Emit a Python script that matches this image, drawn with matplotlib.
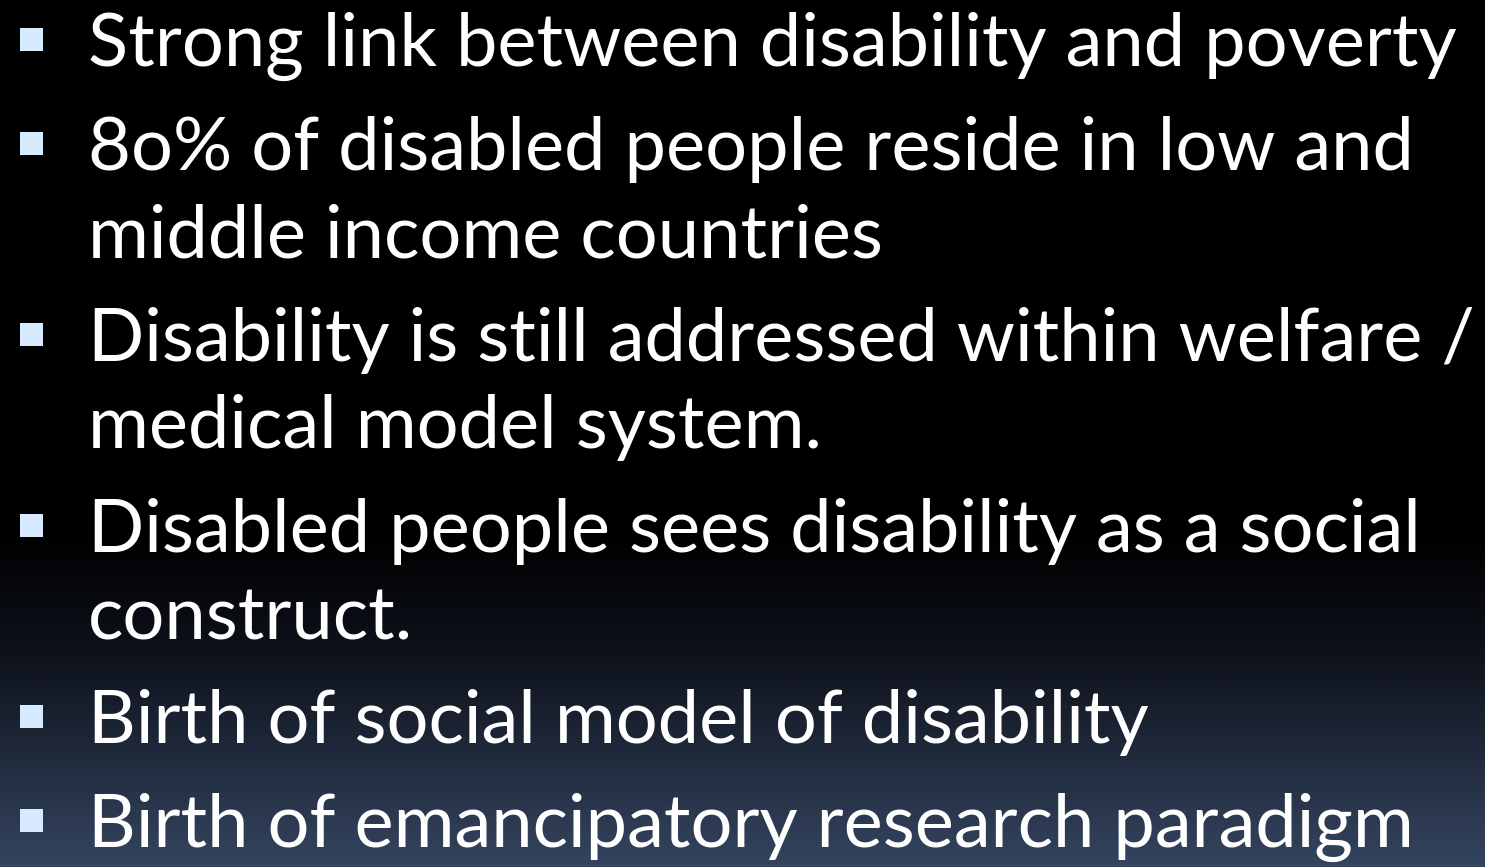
import matplotlib
matplotlib.use("Agg")
import matplotlib.pyplot as plt
import numpy as np
from matplotlib.colors import LinearSegmentedColormap
from matplotlib.patches import Rectangle

# slide content: one entry per bullet, wrapped lines as in the slide
bullets = [
    ["Strong link between disability and poverty"],
    ["8o% of disabled people reside in low and", "middle income countries"],
    ["Disability is still addressed within welfare /", "medical model system."],
    ["Disabled people sees disability as a social", "construct."],
    ["Birth of social model of disability"],
    ["Birth of emancipatory research paradigm"],
]

W, H = 1485, 867
FONT = ["Lato", "DejaVu Sans"]
TEXT_X = 88
RIGHT_LIMIT = 1474
BULLET_X = 20
BULLET_SIZE = 23
FIRST_BASELINE = 66
LINE_GAP = 87
PARA_GAP = 104

fig = plt.figure(figsize=(W / 100, H / 100), dpi=100)
ax = fig.add_axes([0, 0, 1, 1])
ax.set_xlim(0, W)
ax.set_ylim(H, 0)
ax.axis("off")

# dark background, black at top fading into slate blue near the bottom
cmap = LinearSegmentedColormap.from_list(
    "bg", [(0, "#000000"), (0.62, "#000000"), (0.75, "#0d111a"), (1, "#34445f")]
)
grad = np.linspace(0, 1, 400).reshape(-1, 1)
ax.imshow(grad, cmap=cmap, extent=[0, W, H, 0], aspect="auto", zorder=0)

# pick a font size so the widest line still fits inside the slide
renderer = fig.canvas.get_renderer()
widest = 0
for lines in bullets:
    for line in lines:
        probe = ax.text(0, 0, line, fontsize=50, family=FONT)
        widest = max(widest, probe.get_window_extent(renderer).width)
        probe.remove()
fsize = 50 * (RIGHT_LIMIT - TEXT_X) / widest

y = FIRST_BASELINE
for i, lines in enumerate(bullets):
    if i > 0:
        y += PARA_GAP
    ax.add_patch(Rectangle((BULLET_X, y - 27 - BULLET_SIZE / 2), BULLET_SIZE, BULLET_SIZE,
                           facecolor="#d6ebff", edgecolor="none", zorder=2))
    for j, line in enumerate(lines):
        if j > 0:
            y += LINE_GAP
        ax.text(TEXT_X, y, line, fontsize=fsize, family=FONT, color="white",
                va="baseline", ha="left", zorder=3)

fig.savefig("out.png", dpi=100, facecolor="black")
